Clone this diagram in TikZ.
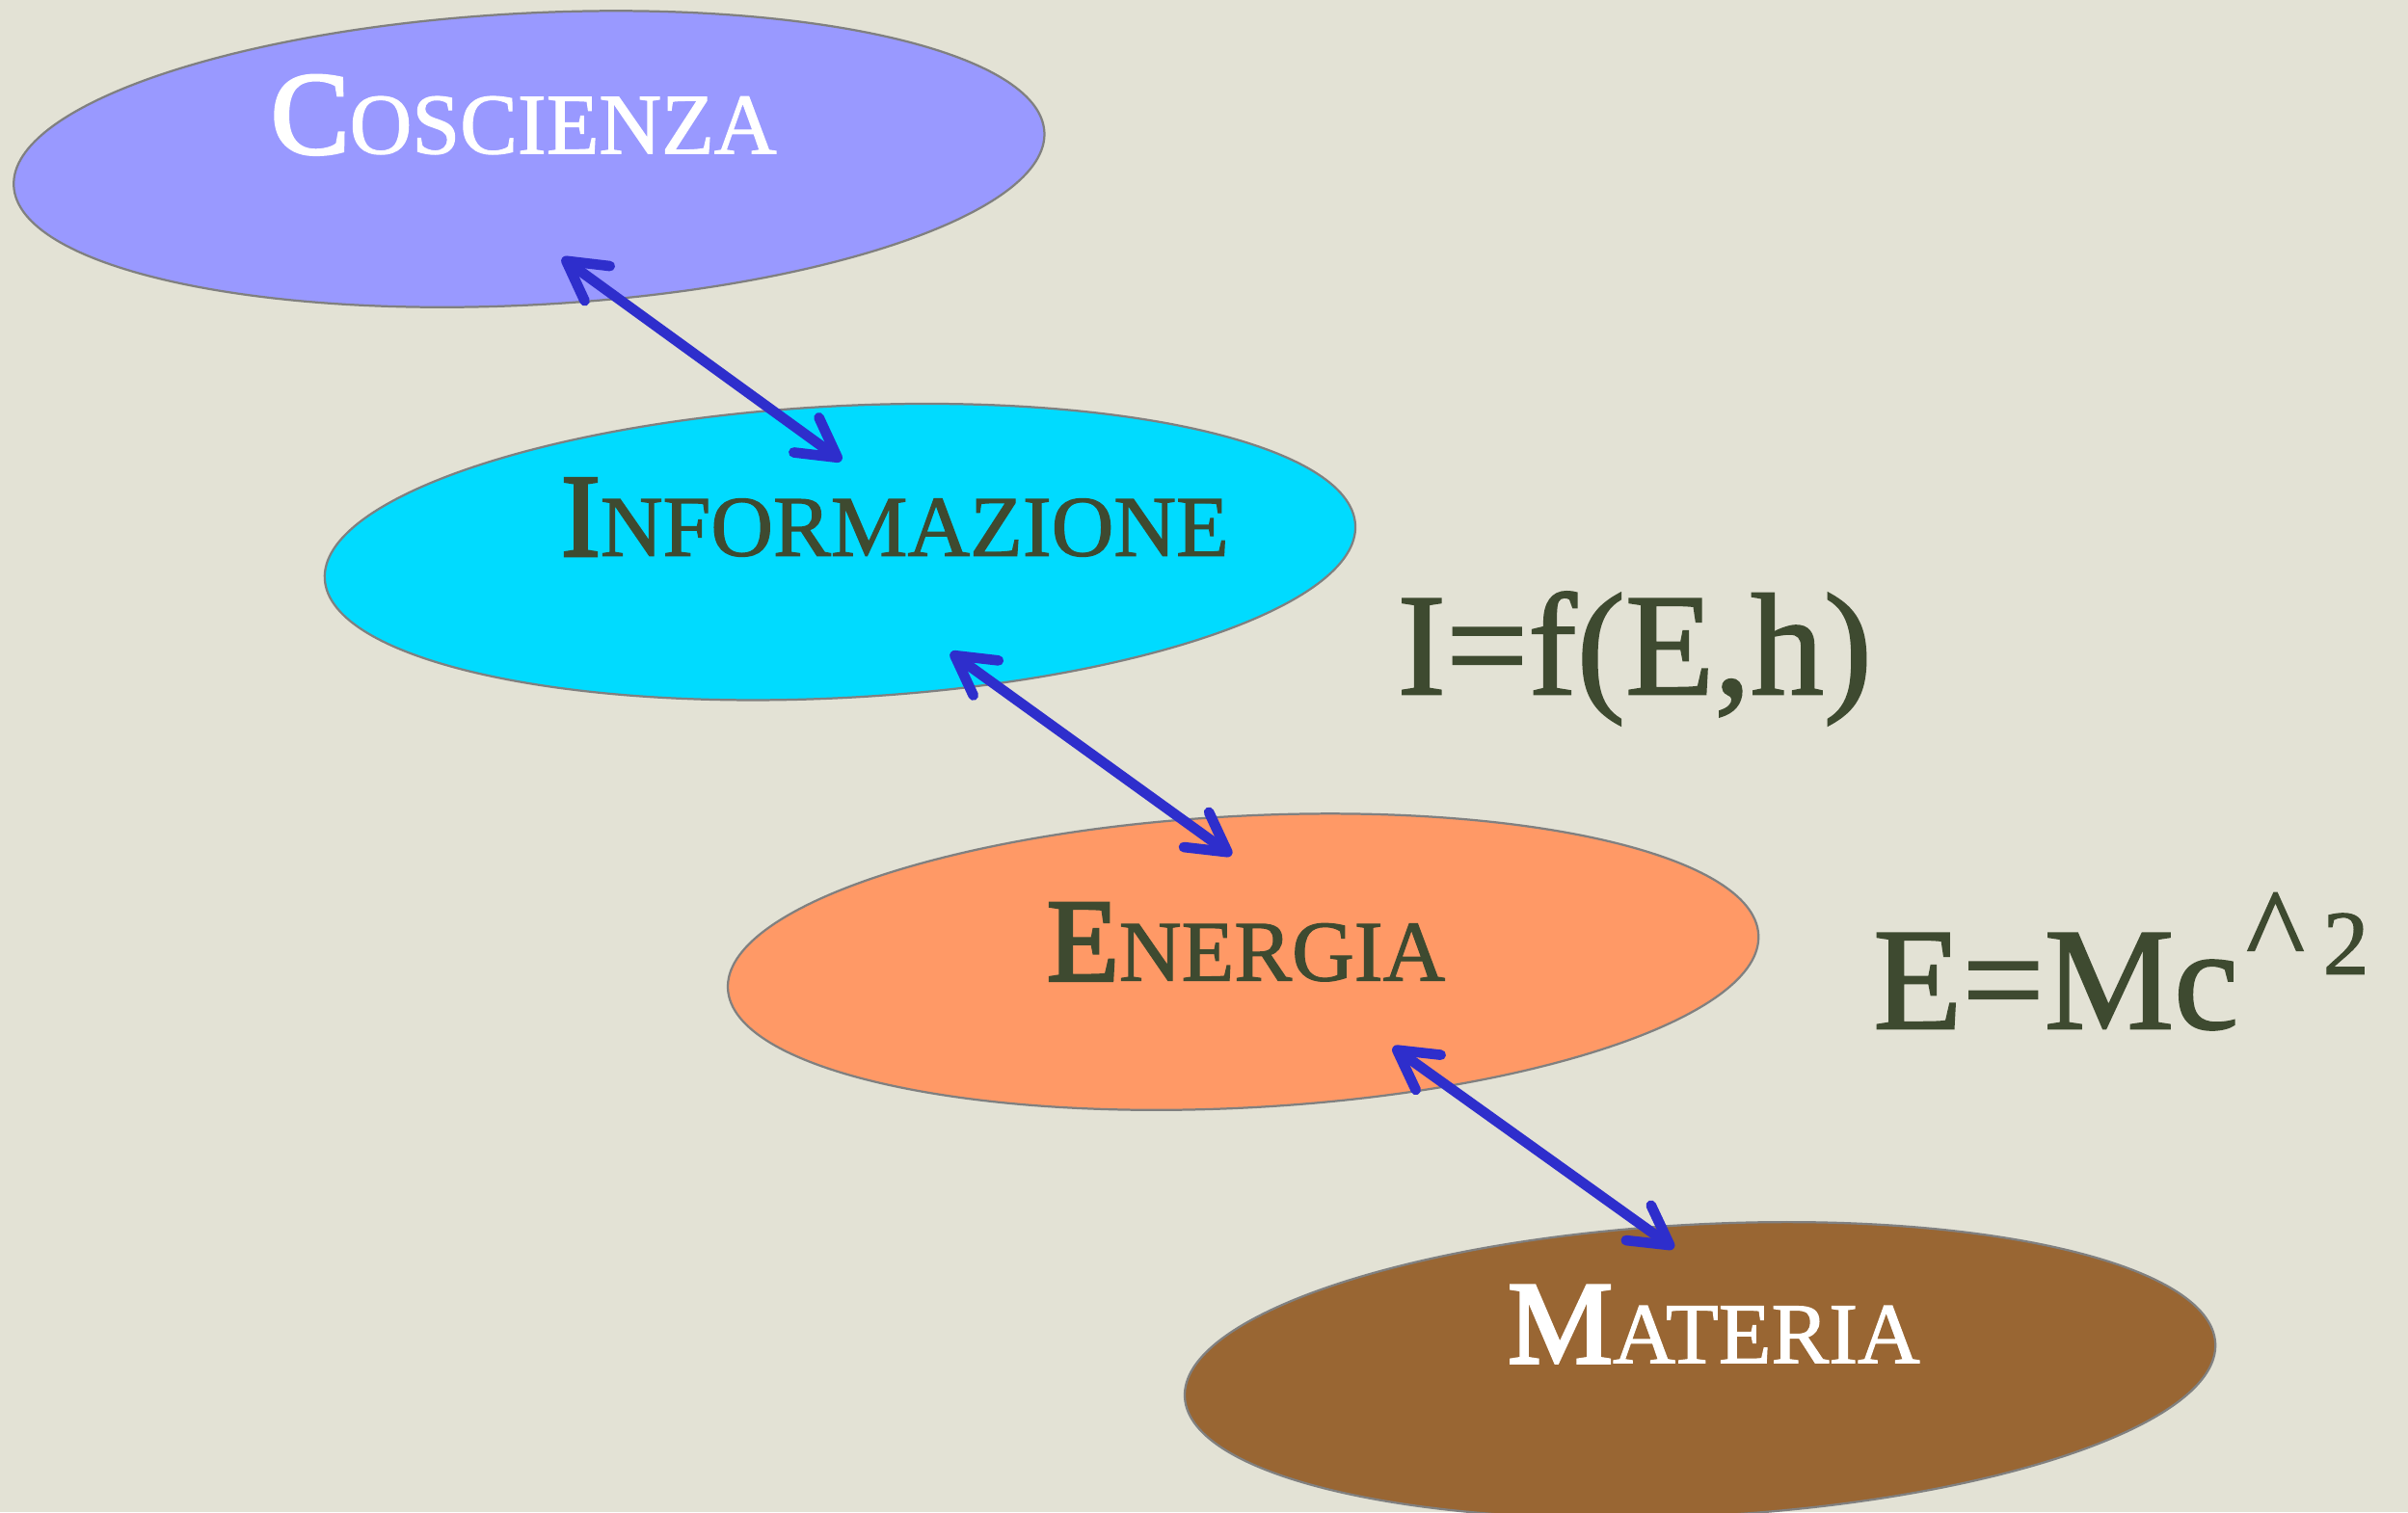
\documentclass[tikz,border=0pt]{standalone}
\usepackage{fontspec}
\setmainfont{Liberation Serif}
\newfontfamily\heavyserif[FakeBold=1.3]{Liberation Serif}
\newfontfamily\initserif[FakeBold=2.6]{Liberation Serif}
\usetikzlibrary{shapes.geometric,arrows.meta}
\definecolor{paper}{RGB}{227,226,213}
\definecolor{coscBlue}{RGB}{153,153,255}
\definecolor{infoCyan}{RGB}{0,219,255}
\definecolor{enerOrange}{RGB}{255,153,102}
\definecolor{matBrown}{RGB}{153,102,51}
\definecolor{inkOlive}{RGB}{62,74,48}
\definecolor{linkBlue}{RGB}{46,46,204}
% capital initial + small capitals
\newcommand{\capword}[2]{{\initserif\fontsize{21.9}{24}\selectfont #1}{\fontsize{16}{18}\selectfont #2}}

\begin{document}
\begin{tikzpicture}[
            blob/.style={draw=gray, line width=0.4pt, ellipse, rotate=3, minimum width=6.72cm, minimum height=1.9cm, inner sep=0pt},
            tag/.style={anchor=base, inner sep=0pt, text=inkOlive, font=\heavyserif},
            formula/.style={inner sep=0pt, text=inkOlive, font=\heavyserif\fontsize{27}{30}\selectfont},
            link/.style={{Straight Barb[length=2.5mm,width=2.8mm,round]}-{Straight Barb[length=2.5mm,width=2.8mm,round]}, line width=1.9pt, linkBlue, line cap=round}
        ]
            \useasboundingbox (0,0) rectangle (15.68,-9.85);
            \clip (0,0) rectangle (15.68,-9.85);
            \fill[paper] (0,0) rectangle (15.68,-9.85);

            \node (cos) [blob, fill=coscBlue] at (3.445,-1.036) {};
            \node (inf) [blob, fill=infoCyan] at (5.47,-3.595) {};
            \node (ene) [blob, fill=enerOrange] at (8.095,-6.265) {};
            \node (mat) [blob, fill=matBrown] at (11.07,-8.925) {};

            \node (cosT) [tag, text=white] at (3.41,-1.00) {\capword{C}{OSCIENZA}};
            \node (infT) [tag] at (5.828,-3.62) {\capword{I}{NFORMAZIONE}};
            \node (eneT) [tag] at (8.114,-6.387) {\capword{E}{NERGIA}};
            \node (matT) [tag, text=white] at (11.16,-8.877) {\capword{M}{ATERIA}};

            \node (info) [formula, anchor=base] at (10.645,-4.522) {I=f(E,h)};
            \node (einst) [formula, anchor=base west] at (12.19,-6.70) {E=Mc\kern0.05cm\raisebox{0.355cm}{{\fontsize{23}{23}\selectfont\textasciicircum}\kern0.12cm{\fontsize{17}{17}\selectfont 2}}};

            \draw [link] ([xshift=2.15mm,yshift=-6.44mm]cos.center) -- ([xshift=0.1mm,yshift=5.95mm]inf.center);
            \draw [link] ([xshift=7.2mm,yshift=-6.55mm]inf.center) -- ([xshift=-0.75mm,yshift=6.95mm]ene.center);
            \draw [link] ([xshift=9.75mm,yshift=-5.55mm]ene.center) -- ([xshift=-1.7mm,yshift=7.95mm]mat.center);
        \end{tikzpicture}
\end{document}
